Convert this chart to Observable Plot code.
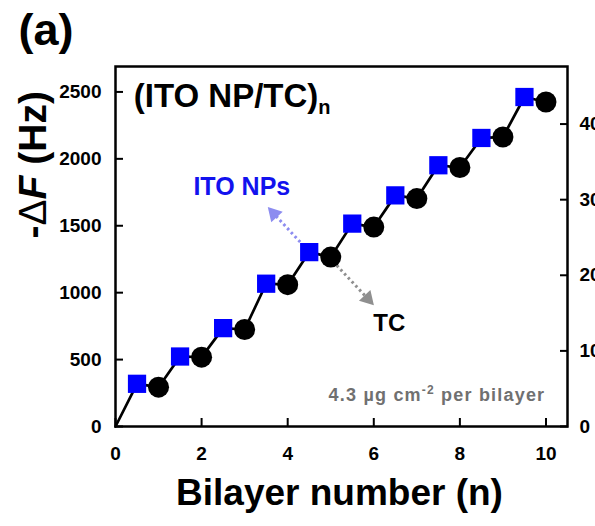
<!DOCTYPE html>
<html>
<head>
<meta charset="utf-8">
<script src="https://cdn.jsdelivr.net/npm/d3@7"></script>
<script src="https://cdn.jsdelivr.net/npm/@observablehq/plot@0.6"></script>
<style>
  body { margin: 0; background: #fff; }
  svg { display: block; }
</style>
</head>
<body>
<div id="chart"></div>
<script>
// QCM frequency shift after each deposition step of an (ITO NP/TC)n multilayer
const itoLayer = [0.5, 1.5, 2.5, 3.5, 4.5, 5.5, 6.5, 7.5, 8.5, 9.5];
const itoHz    = [319, 523, 735, 1067, 1303, 1516, 1727, 1952, 2156, 2462];
const tcLayer  = [1, 2, 3, 4, 5, 6, 7, 8, 9, 10];
const tcHz     = [294, 518, 725, 1060, 1266, 1490, 1703, 1935, 2163, 2425];

const xTicks    = [0, 2, 4, 6, 8, 10];
const hzTicks   = [0, 500, 1000, 1500, 2000, 2500];
const massTicks = [0, 10, 20, 30, 40];      // µg cm-2
const sauerbrey = 0.0177;                    // µg cm-2 per Hz (5 MHz crystal)

const panelLabel = "(a)";
const xLabel = "Bilayer number (n)";
const yLabelParts = ["-", "Δ", "F", " (Hz)"];
const titleParts = ["(ITO NP/TC)", "n"];
const noteParts = ["4.3 µg cm", "-2", " per bilayer"];

// annotation anchors, in data units (bilayer, Hz)
const titleAt = {x: 0.425, y: 2388};
const itoLabelAt = {x: 1.81, y: 1727, text: "ITO NPs"};
const tcLabelAt = {x: 5.99, y: 710, text: "TC"};
const noteAt = {x: 4.95, y: 189};
const arrows = [
  {x1: 4.29, y1: 1378, x2: 3.68, y2: 1590, color: "#8c8cf0"},
  {x1: 5.14, y1: 1204, x2: 5.86, y2: 955, color: "#8f8f8f"}
];

// deposition sequence: bare crystal, then alternating ITO NP and TC layers
const ito = itoLayer.map((n, i) => ({n, hz: itoHz[i]}));
const tc = tcLayer.map((n, i) => ({n, hz: tcHz[i]}));
const steps = [{n: 0, hz: 0}];
ito.forEach((d, i) => { steps.push(d, tc[i]); });

const W = 595, H = 526;
const mTop = 66, mRight = 28, mBottom = 100, mLeft = 115;
const xDomain = [0, 10.5], yDomain = [0, 2690];

// pixel mapping used only to orient the arrowheads along their shafts
const px = d3.scaleLinear(xDomain, [mLeft, W - mRight]);
const py = d3.scaleLinear(yDomain, [H - mBottom, mTop]);
arrows.forEach(a => {
  const dx = px(a.x2) - px(a.x1), dy = py(a.y2) - py(a.y1);
  a.angle = Math.atan2(dx, -dy) * 180 / Math.PI;
});

const chart = Plot.plot({
  width: W,
  height: H,
  marginTop: mTop,
  marginRight: mRight,
  marginBottom: mBottom,
  marginLeft: mLeft,
  style: {
    fontFamily: "'Liberation Sans', Arial, sans-serif",
    fontWeight: "bold",
    fontSize: "19px",
    color: "black",
    background: "white"
  },
  x: {domain: xDomain},
  y: {domain: yDomain},
  marks: [
    Plot.axisX({ticks: xTicks, tickSize: -8, tickPadding: 28, strokeWidth: 2, label: null, tickFormat: d3.format("d")}),
    Plot.axisY({ticks: hzTicks, anchor: "left", tickSize: -8, tickPadding: 22, strokeWidth: 2, label: null, tickFormat: d3.format("d")}),
    Plot.axisY({
      ticks: massTicks.map(m => m / sauerbrey),
      anchor: "right", tickSize: -8, tickPadding: 20, strokeWidth: 2, label: null,
      tickFormat: d => String(Math.round(d * sauerbrey))
    }),
    Plot.frame({stroke: "black", strokeWidth: 2.5}),

    Plot.link(arrows, {
      x1: "x1", y1: "y1", x2: "x2", y2: "y2",
      stroke: "color", strokeWidth: 3, strokeDasharray: "2.5,3"
    }),
    Plot.dot(arrows, {
      x: "x2", y: "y2", symbol: "triangle", r: 5.8,
      fill: "color", rotate: "angle"
    }),

    Plot.line(steps, {x: "n", y: "hz", stroke: "black", strokeWidth: 2.7}),
    Plot.dot(ito, {x: "n", y: "hz", symbol: "square", r: 10.3, fill: "#0000ff"}),
    Plot.dot(tc, {x: "n", y: "hz", r: 10.5, fill: "black"}),

    Plot.text([titleAt], {
      x: "x", y: "y", text: () => titleParts.join(""),
      textAnchor: "start", lineAnchor: "bottom", fontSize: 33, fill: "black"
    }),
    Plot.text([itoLabelAt], {
      x: "x", y: "y", text: "text",
      textAnchor: "start", lineAnchor: "bottom", fontSize: 25, fill: "#1212ee"
    }),
    Plot.text([tcLabelAt], {
      x: "x", y: "y", text: "text",
      textAnchor: "start", lineAnchor: "bottom", fontSize: 24, fill: "black"
    }),
    Plot.text([noteAt], {
      x: "x", y: "y", text: () => noteParts.join(""),
      textAnchor: "start", lineAnchor: "bottom", fontSize: 18, fill: "#707070"
    }),

    Plot.text([panelLabel], {
      text: d => d, frameAnchor: "top-left", textAnchor: "start", lineAnchor: "bottom",
      dx: -97, dy: -22, fontSize: 45, fill: "black"
    }),
    Plot.text([xLabel], {
      text: d => d, frameAnchor: "bottom", lineAnchor: "bottom",
      dx: -2, dy: 78, fontSize: 37, fill: "black"
    }),
    Plot.text([yLabelParts.join("")], {
      text: d => d, frameAnchor: "left", rotate: -90,
      dx: -82, dy: -8, fontSize: 39, fill: "black"
    })
  ]
});

// rich text: subscripts, superscripts and the italic F
function rich(svg, plain, build) {
  d3.select(svg).selectAll("text")
    .filter(function () { return this.textContent === plain; })
    .each(function () {
      const t = d3.select(this);
      t.text(null);
      build(t);
    });
}

rich(chart, titleParts.join(""), t => {
  t.append("tspan").text(titleParts[0]);
  t.append("tspan").attr("font-size", 20).attr("dy", 7).text(titleParts[1]);
});
rich(chart, noteParts.join(""), t => {
  t.attr("letter-spacing", 1.2);
  t.append("tspan").text(noteParts[0]);
  t.append("tspan").attr("font-size", 12).attr("dy", -7).text(noteParts[1]);
  t.append("tspan").attr("dy", 7).text(noteParts[2]);
});
rich(chart, yLabelParts.join(""), t => {
  t.append("tspan").text(yLabelParts[0]);
  t.append("tspan").attr("font-weight", "normal").text(yLabelParts[1]);
  t.append("tspan").attr("font-style", "italic").text(yLabelParts[2]);
  t.append("tspan").text(yLabelParts[3]);
});

document.getElementById("chart").append(chart);
</script>
</body>
</html>
